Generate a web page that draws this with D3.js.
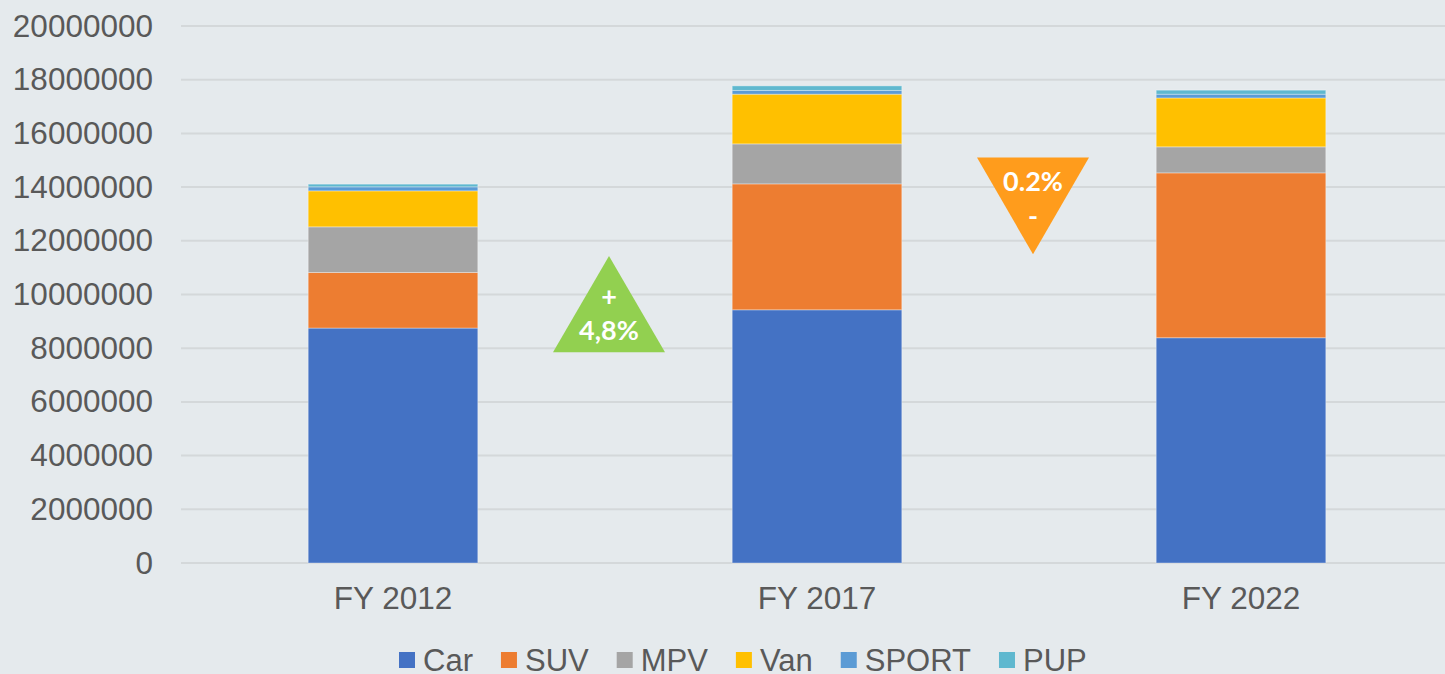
<!DOCTYPE html>
<html>
<head>
<meta charset="utf-8">
<script src="https://cdn.jsdelivr.net/npm/d3@7"></script>
<style>
  html,body{margin:0;padding:0;background:#e5eaed;}
  svg{display:block;}
</style>
</head>
<body>
<svg id="chart"></svg>
<script>
var WIDTH=1445, HEIGHT=674;

// data
var years=["FY 2012","FY 2017","FY 2022"];
var segments=["Car","SUV","MPV","Van","SPORT","PUP"];
var car  =[8750000, 9430000, 8390000];
var suv  =[2070000, 4690000, 6140000];
var mpv  =[1700000, 1490000,  970000];
var van  =[1340000, 1850000, 1820000];
var sport=[ 150000,  140000,  140000];
var pup  =[ 100000,  170000,  150000];
var yTicks=[0,2000000,4000000,6000000,8000000,10000000,12000000,14000000,16000000,18000000,20000000];

// change markers between the bars: [from index, to index, base value, tip value, lines]
var changes=[
  {from:0,to:1,base:7850000,tip:11430000,lines:["+","4,8%"],pos:[0.58,0.23],color:"#92d050"},
  {from:1,to:2,base:15100000,tip:11500000,lines:["0.2%","-"],pos:[0.25,0.61],color:"#ff9c1c"}
];

const colors=["#4472c4","#ed7d31","#a5a5a5","#ffc000","#5b9bd5","#5fb8cf"];

var rows=years.map(function(y,i){
  return {year:y,Car:car[i],SUV:suv[i],MPV:mpv[i],Van:van[i],SPORT:sport[i],PUP:pup[i]};
});

var margin={left:181,right:-8,top:26,bottom:111};

var svg=d3.select("#chart").attr("width",WIDTH).attr("height",HEIGHT);
svg.append("rect").attr("width",WIDTH).attr("height",HEIGHT).attr("fill","#e5eaed");

var x=d3.scaleBand().domain(years)
  .range([margin.left,WIDTH-margin.right])
  .paddingInner(0.6).paddingOuter(0.3);
var y=d3.scaleLinear().domain([0,20000000]).range([HEIGHT-margin.bottom,margin.top]);
var color=d3.scaleOrdinal().domain(segments).range(colors);

// gridlines
svg.append("g").attr("class","grid").selectAll("line").data(yTicks).enter().append("line")
  .attr("x1",margin.left).attr("x2",WIDTH)
  .attr("y1",function(d){return y(d)}).attr("y2",function(d){return y(d)})
  .attr("stroke","#d4d8da").attr("stroke-width",2);

// y axis labels
var yAxis=d3.axisLeft(y).tickValues(yTicks).tickSize(0).tickPadding(28).tickFormat(d3.format("d"));
var gy=svg.append("g").attr("transform","translate("+margin.left+",0)").call(yAxis);
gy.select(".domain").remove();
gy.selectAll("text").attr("font-family","'Liberation Sans', Arial, sans-serif")
  .attr("font-size",31.5).attr("fill","#595959");

// stacked bars
var stack=d3.stack().keys(segments)(rows);
var layers=svg.append("g").attr("class","bars").selectAll("g").data(stack).enter().append("g")
  .attr("fill",function(d){return color(d.key)});
layers.selectAll("rect").data(function(d){return d}).enter().append("rect")
  .attr("x",function(d){return x(d.data.year)})
  .attr("width",x.bandwidth())
  .attr("y",function(d){return y(d[1])})
  .attr("height",function(d){return y(d[0])-y(d[1])})
  .attr("stroke","rgba(255,255,255,0.35)").attr("stroke-width",1);

// x axis labels
var xAxis=d3.axisBottom(x).tickSize(0).tickPadding(24);
var gx=svg.append("g").attr("transform","translate(0,"+y(0)+")").call(xAxis);
gx.select(".domain").remove();
gx.selectAll("text").attr("font-family","'Liberation Sans', Arial, sans-serif")
  .attr("font-size",31.5).attr("fill","#595959");

// change triangles
var half=56, shift=4;
var marks=svg.append("g").attr("class","changes").selectAll("g").data(changes).enter().append("g");
marks.append("path")
  .attr("d",function(d){
    var cx=(x(years[d.from])+x(years[d.to]))/2+x.bandwidth()/2+shift;
    var yb=y(d.base), yt=y(d.tip);
    return "M"+(cx-half)+","+yb+"L"+(cx+half)+","+yb+"L"+cx+","+yt+"Z";
  })
  .attr("fill",function(d){return d.color});
marks.each(function(d){
  var cx=(x(years[d.from])+x(years[d.to]))/2+x.bandwidth()/2+shift;
  var yb=y(d.base), yt=y(d.tip);
  d3.select(this).selectAll("text").data(d.lines).enter().append("text")
    .attr("x",cx)
    .attr("y",function(t,i){return yb+(yt-yb)*d.pos[i]})
    .attr("dy","0.36em")
    .attr("text-anchor","middle")
    .attr("font-family","Lato, 'Open Sans', sans-serif")
    .attr("font-weight","bold").attr("font-size",27)
    .attr("fill","#fff")
    .text(function(t){return t});
});

// legend
var legend=svg.append("g").attr("class","legend");
var lx=399, ly=660;
segments.forEach(function(s,i){
  var g=legend.append("g").attr("transform","translate("+lx+","+ly+")");
  g.append("rect").attr("x",0).attr("y",-8).attr("width",16).attr("height",16).attr("fill",colors[i]);
  var t=g.append("text").attr("x",24).attr("y",0).attr("dy","0.36em")
    .attr("font-family","'Liberation Sans', Arial, sans-serif")
    .attr("font-size",31).attr("fill","#595959").text(s);
  lx+=24+t.node().getComputedTextLength()+28;
});
</script>
</body>
</html>
